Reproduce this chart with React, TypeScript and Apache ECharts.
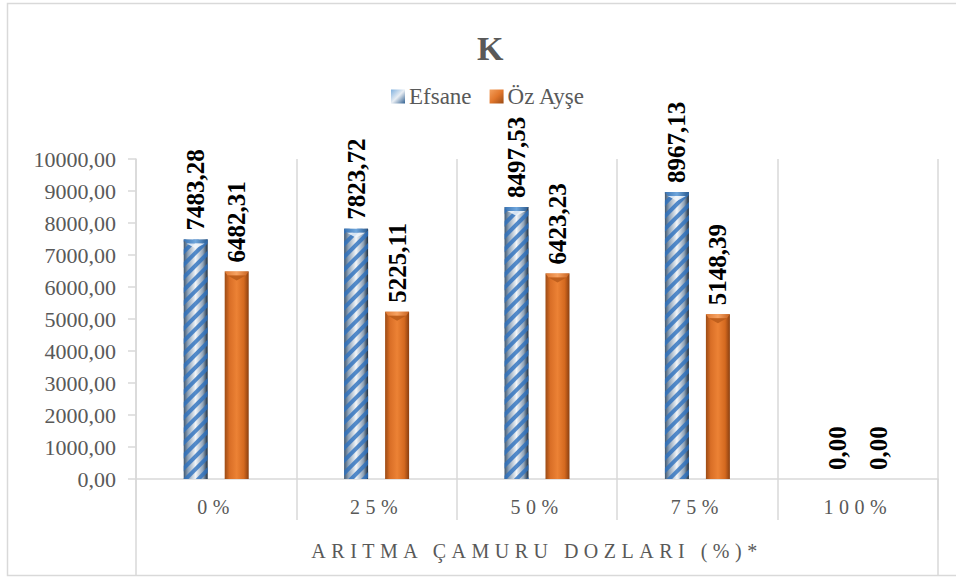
import React, { useEffect, useRef } from "react";
import * as echarts from "echarts";

// Dose categories, series values and axis texts
const categories = ["0%", "25%", "50%", "75%", "100%"];
const efsane = [7483.28, 7823.72, 8497.53, 8967.13, 0.0];
const ozAyse = [6482.31, 5225.11, 6423.23, 5148.39, 0.0];
const seriesNames = ["Efsane", "Öz Ayşe"];
const chartTitle = "K";
const xAxisTitle = "ARITMA ÇAMURU DOZLARI (%)*";
const yMin = 0;
const yMax = 10000;
const yStep = 1000;

const FONT = "'Liberation Serif', 'Times New Roman', serif";
const GRAY = "#595959";
const SPACED = "#595958"; // texts drawn with letter spacing
const LINE = "#d9d9d9";

const BAR_W = 24;
const BAR_GAP = 17;

const fmt = (v: number) => v.toFixed(2).replace(".", ",");

// Bevelled cap drawn on top of each bar, following the bar's own value
function capSeries(values: number[], seriesIdx: number, capColor: any, centerColor: string) {
  return {
    type: "custom",
    silent: true,
    z: 3,
    data: values.map((v, i) => [i, v]),
    renderItem: (params: any, api: any) => {
      const v = api.value(1);
      if (!v) return null;
      const top = api.coord([api.value(0), v]);
      const offset = ((seriesIdx === 0 ? -1 : 1) * (BAR_W + BAR_GAP)) / 2;
      const cx = top[0] + offset;
      const l = cx - BAR_W / 2;
      const r = cx + BAR_W / 2;
      const t = top[1];
      return {
        type: "group",
        children: [
          {
            type: "polygon",
            shape: { points: [[l, t], [r, t], [r - 3, t + 4], [l + 3, t + 4]] },
            style: { fill: capColor },
          },
          {
            type: "polygon",
            shape: { points: [[l + 3, t + 4], [r - 3, t + 4], [cx, t + 9]] },
            style: { fill: centerColor, opacity: 0.85 },
          },
        ],
      };
    },
  };
}

export default function App() {
  const ref = useRef<HTMLDivElement>(null);

  useEffect(() => {
    if (!ref.current) return;
    const chart = echarts.init(ref.current, undefined, { renderer: "svg" });

    const gridLeft = 136;
    const gridRight = 18;
    const gridTop = 159;
    const gridBottom = 100;
    const W = 956;
    const H = 579;

    const valueLabel = {
      show: true,
      position: "top" as const,
      rotate: 90,
      align: "left" as const,
      verticalAlign: "middle" as const,
      distance: 9,
      fontFamily: FONT,
      fontWeight: "bold" as const,
      fontSize: 25,
      color: "#000",
      formatter: (p: any) => fmt(p.value),
    };

    chart.setOption({
      animation: false,
      backgroundColor: "#fff",
      title: {
        text: chartTitle,
        left: 472,
        top: 26,
        textStyle: { fontFamily: FONT, fontSize: 34, fontWeight: "bold", color: GRAY },
      },
      legend: {
        left: 386,
        top: 80,
        itemWidth: 14,
        itemHeight: 14,
        itemGap: 18,
        icon: "rect",
        textStyle: { fontFamily: FONT, fontSize: 23, color: GRAY, padding: [0, 0, 0, -1] },
        data: [
          {
            name: seriesNames[0],
            itemStyle: {
              color: new echarts.graphic.LinearGradient(0, 0, 1, 1, [
                { offset: 0, color: "#7fb0de" },
                { offset: 0.5, color: "#e9eef4" },
                { offset: 1, color: "#2f5f90" },
              ]),
              decal: "none",
            },
          },
          {
            name: seriesNames[1],
            itemStyle: {
              color: new echarts.graphic.LinearGradient(0, 0, 1, 1, [
                { offset: 0, color: "#f3a05e" },
                { offset: 0.5, color: "#e2772c" },
                { offset: 1, color: "#9a4a14" },
              ]),
            },
          },
        ],
      },
      grid: { left: gridLeft, right: gridRight, top: gridTop, bottom: gridBottom },
      xAxis: {
        type: "category",
        data: categories,
        name: xAxisTitle,
        nameLocation: "middle",
        nameGap: 62,
        nameTextStyle: { fontFamily: FONT, fontSize: 20, color: SPACED },
        axisLine: { show: true, lineStyle: { color: LINE, width: 1.5 } },
        axisTick: { show: true, length: 41, lineStyle: { color: LINE, width: 1.5 } },
        splitLine: { show: true, lineStyle: { color: LINE, width: 1.5 } },
        axisLabel: { fontFamily: FONT, fontSize: 20, color: SPACED, margin: 18 },
      },
      yAxis: {
        type: "value",
        min: yMin,
        max: yMax,
        interval: yStep,
        axisLine: { show: true, lineStyle: { color: LINE, width: 1.5 } },
        axisTick: { show: true, length: 8, lineStyle: { color: LINE, width: 1.5 } },
        splitLine: { show: false },
        axisLabel: {
          fontFamily: FONT,
          fontSize: 22,
          color: GRAY,
          margin: 20,
          formatter: (v: number) => fmt(v),
        },
      },
      series: [
        {
          name: seriesNames[0],
          type: "bar",
          data: efsane,
          barWidth: BAR_W,
          barGap: `${(BAR_GAP / BAR_W) * 100}%`,
          itemStyle: {
            color: new echarts.graphic.LinearGradient(0, 0, 1, 0, [
              { offset: 0, color: "#3f5770" },
              { offset: 0.18, color: "#8fa3b8" },
              { offset: 0.5, color: "#f2f5f8" },
              { offset: 0.8, color: "#8fa3b8" },
              { offset: 1, color: "#1c2d3f" },
            ]),
            decal: {
              symbol: "rect",
              symbolSize: 1,
              color: "rgba(45,112,190,0.8)",
              dashArrayX: [1, 0],
              dashArrayY: [4, 5],
              rotation: -Math.PI / 4,
            },
          },
          label: valueLabel,
        },
        {
          name: seriesNames[1],
          type: "bar",
          data: ozAyse,
          barWidth: BAR_W,
          itemStyle: {
            color: new echarts.graphic.LinearGradient(0, 0, 1, 0, [
              { offset: 0, color: "#9c4b15" },
              { offset: 0.2, color: "#d96e26" },
              { offset: 0.5, color: "#ec8235" },
              { offset: 0.8, color: "#d4691f" },
              { offset: 1, color: "#8a3f10" },
            ]),
          },
          label: valueLabel,
        },
        capSeries(
          efsane,
          0,
          new echarts.graphic.LinearGradient(0, 0, 1, 0, [
            { offset: 0, color: "#3a74b4" },
            { offset: 0.5, color: "#6fa6dc" },
            { offset: 1, color: "#2a5a8e" },
          ]),
          "#eef4fa"
        ),
        capSeries(
          ozAyse,
          1,
          new echarts.graphic.LinearGradient(0, 0, 1, 0, [
            { offset: 0, color: "#e07a34" },
            { offset: 0.5, color: "#f6a262" },
            { offset: 1, color: "#c8621f" },
          ]),
          "#b85a1a"
        ),
      ],
      graphic: [
        {
          type: "rect",
          shape: { x: 7.5, y: 3.5, width: W, height: H - 3 - 3.5 - 0.5 },
          style: { fill: "none", stroke: LINE, lineWidth: 1.5 },
          silent: true,
        },
        {
          type: "line",
          shape: { x1: gridLeft, y1: H - gridBottom, x2: gridLeft, y2: H - 4 },
          style: { stroke: LINE, lineWidth: 1.5 },
          silent: true,
        },
        {
          type: "line",
          shape: { x1: W - gridRight, y1: H - gridBottom, x2: W - gridRight, y2: H - 4 },
          style: { stroke: LINE, lineWidth: 1.5 },
          silent: true,
        },
      ],
    });

    return () => chart.dispose();
  }, []);

  return (
    <>
      <style>{`#chart-k svg text[fill="${SPACED}"]{letter-spacing:5.5px;}`}</style>
      <div
        id="chart-k"
        ref={ref}
        style={{ position: "fixed", left: 0, top: 0, width: 956, height: 579 }}
      />
    </>
  );
}
